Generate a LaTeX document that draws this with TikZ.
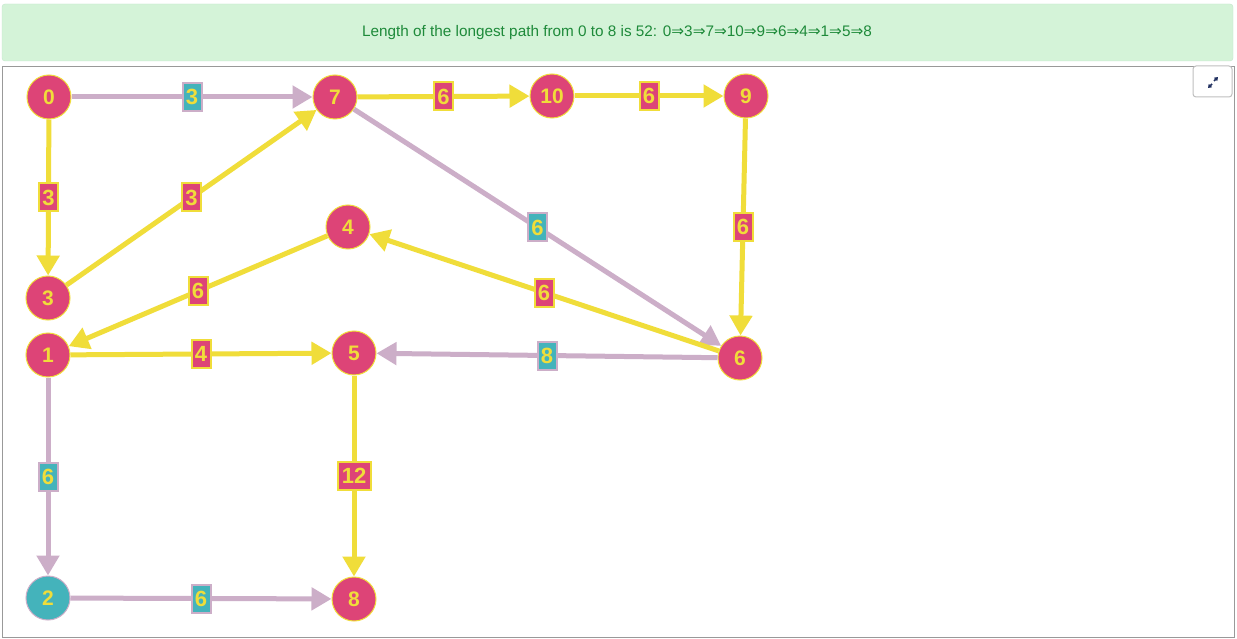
\documentclass[tikz,border=0pt]{standalone}
\usepackage{fontspec}
\setmainfont{Liberation Sans}
\newfontfamily\dv{DejaVu Sans}
\usetikzlibrary{arrows.meta}
\definecolor{npink}{HTML}{DD4477}
\definecolor{nteal}{HTML}{44B3BB}
\definecolor{nyel}{HTML}{F0DD3A}
\definecolor{elil}{HTML}{CCAEC8}
\definecolor{bgreen}{HTML}{D4F3D8}
\definecolor{bgborder}{HTML}{C3E6CB}
\definecolor{tgreen}{HTML}{1E8A3A}
\definecolor{navy}{HTML}{1F2E5E}
\newcommand{\ar}{{\dv ⇒}}
\tikzset{
  vtx/.style={circle, minimum size=44pt, inner sep=0pt, fill=npink, draw=nyel, line width=1pt, text=nyel, font=\bfseries\fontsize{21}{21}\selectfont},
  vtxb/.style={vtx, fill=nteal, draw=elil},
  onpath/.style={line width=5pt, draw=nyel, -{Triangle[length=20pt,width=22pt]}},
  offpath/.style={line width=5pt, draw=elil, -{Triangle[length=20pt,width=22pt]}},
  wlab/.style={fill=npink, draw=nyel, line width=2pt, text=nyel, inner sep=1pt, minimum width=19pt, minimum height=28pt, font=\bfseries\fontsize{22}{22}\selectfont},
  wlabb/.style={wlab, fill=nteal, draw=elil},
}
\begin{document}
\begin{tikzpicture}[x=1pt,y=-1pt]
\useasboundingbox (0,0) rectangle (1237,639);
\fill[white] (0,0) rectangle (1237,639);
% banner
\draw[fill=bgreen, draw=bgborder, rounded corners=3pt] (2,4) rectangle (1233,61);
\node[text=tgreen, font=\fontsize{15.3}{15.3}\selectfont] (title) at (617,33) {Length of the longest path from 0 to 8 is 52: 0\ar3\ar7\ar10\ar9\ar6\ar4\ar1\ar5\ar8};
% frame
\draw[draw=black!40, line width=1pt] (2.5,66.5) rectangle (1234,637);
\draw[draw=black!25, fill=white, rounded corners=3pt, line width=1pt] (1193,66) rectangle (1232,97);
\coordinate (ia) at (1208,88);
\coordinate (ib) at (1218,77);
\coordinate (ic) at (1212,84);
\coordinate (id) at (1214,81);
\draw[navy, line width=1.6pt, -{Triangle[length=3.5pt,width=4.5pt]}] (ic) -- (ia);
\draw[navy, line width=1.6pt, -{Triangle[length=3.5pt,width=4.5pt]}] (id) -- (ib);
% nodes
\node[vtx] (n0) at (49,97) {0};
\node[vtx] (n7) at (335,97) {7};
\node[vtx] (n10) at (552,96) {10};
\node[vtx] (n9) at (746,96) {9};
\node[vtx] (n3) at (48,298) {3};
\node[vtx] (n4) at (348,227) {4};
\node[vtx] (n1) at (48,355) {1};
\node[vtx] (n5) at (354,353) {5};
\node[vtx] (n6) at (740,358) {6};
\node[vtxb] (n2) at (48,598) {2};
\node[vtx] (n8) at (354,599) {8};
% edges
\draw[offpath] (n0) -- node[wlabb] (l07) {3} (n7);
\draw[onpath] (n0) -- node[wlab] (l03) {3} (n3);
\draw[onpath] (n3) -- node[wlab] (l37) {3} (n7);
\draw[onpath] (n7) -- node[wlab] (l710) {6} (n10);
\draw[onpath] (n10) -- node[wlab] (l109) {6} (n9);
\draw[onpath] (n9) -- node[wlab] (l96) {6} (n6);
\draw[offpath] (n7) -- node[wlabb] (l76) {6} (n6);
\draw[onpath] (n6) -- node[wlab] (l64) {6} (n4);
\draw[onpath] (n4) -- node[wlab] (l41) {6} (n1);
\draw[onpath] (n1) -- node[wlab] (l15) {4} (n5);
\draw[offpath] (n6) -- node[wlabb] (l65) {8} (n5);
\draw[offpath] (n1) -- node[wlabb] (l12) {6} (n2);
\draw[onpath] (n5) -- node[wlab, minimum width=33pt] (l58) {12} (n8);
\draw[offpath] (n2) -- node[wlabb] (l28) {6} (n8);
\end{tikzpicture}
\end{document}
